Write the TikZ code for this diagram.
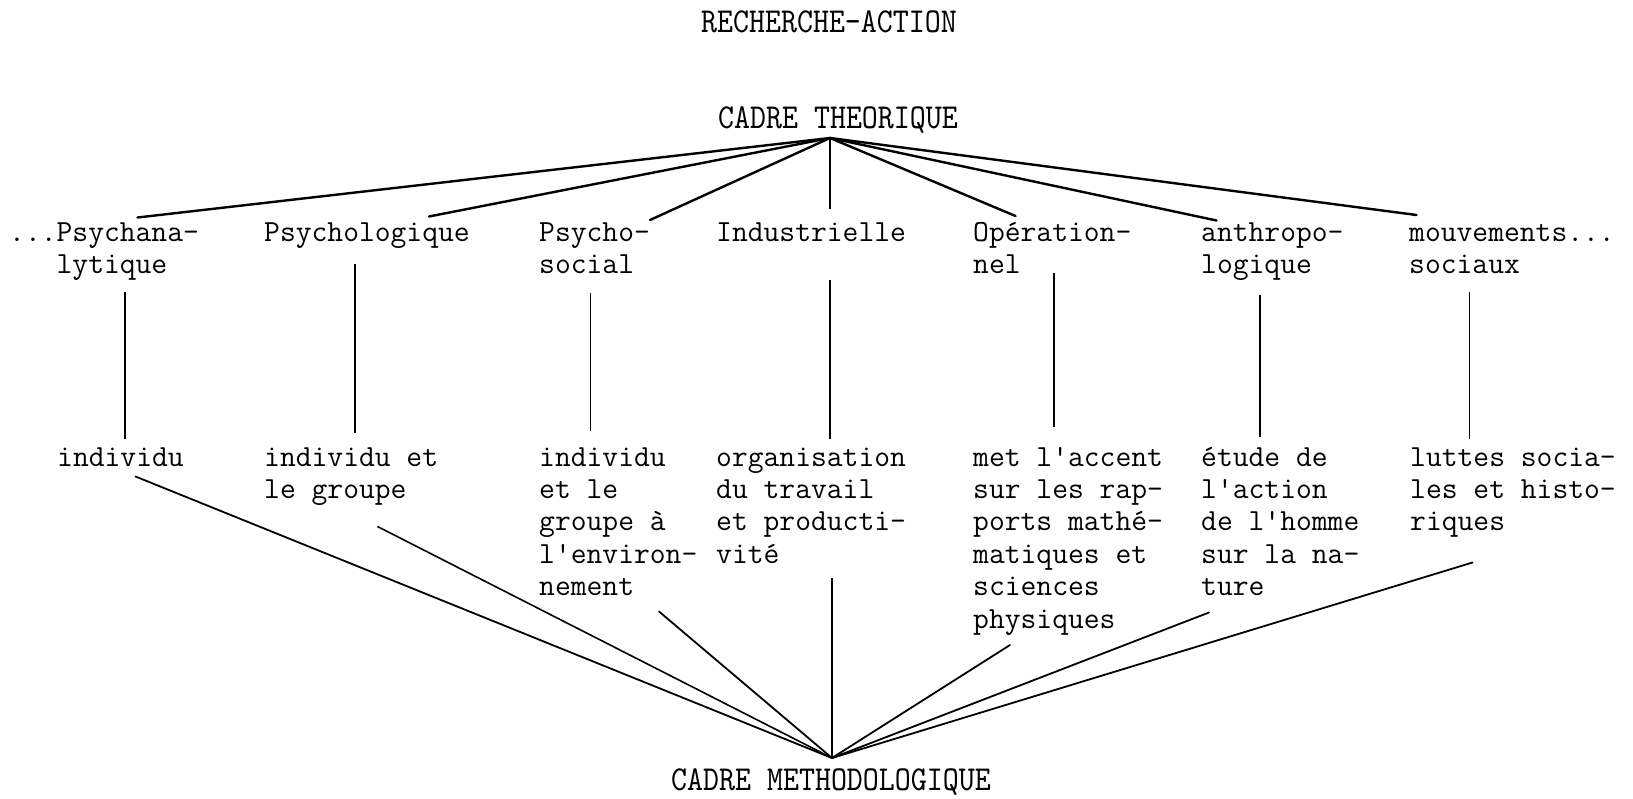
\documentclass[tikz,border=0pt]{standalone}
\usepackage{fontspec}
% typewriter body text and condensed typewriter capitals for the headings
\newfontfamily\hdtype{lmmono10-regular.otf}[FakeStretch=0.87]
\newcommand\lbfont{\ttfamily\fontsize{30.7}{32.4}\selectfont}
\newcommand\hdfont{\hdtype\fontsize{35}{40}\selectfont}
\newcommand\lines[1]{\begin{tabular}[t]{@{}l@{}}#1\end{tabular}}
\begin{document}
\begin{tikzpicture}[x=1pt,y=-1pt,
  lbl/.style={anchor=base west, inner sep=0pt, font=\lbfont},
  head/.style={anchor=base, inner sep=0pt, font=\hdfont},
  fan/.style={line width=2.4pt, line cap=round},
  link/.style={line width=1.6pt},
  base/.style={line width=1.8pt, line cap=round}]
\useasboundingbox (0,0) rectangle (1633,798);

% headings
\node[head] (title) at (829,32) {RECHERCHE-ACTION};
\node[head] (theo) at (838,128) {CADRE THEORIQUE};
\node[head] (meth) at (831,790.5) {CADRE METHODOLOGIQUE};
\coordinate (apexT) at (830,138);
\coordinate (apexB) at (832,758);

% upper row: kinds of action research
\node[lbl] (t1) at (9,241.5)    {\lines{...Psychana-\\\hphantom{...}lytique}};
\node[lbl] (t2) at (264,241.5)  {\lines{Psychologique}};
\node[lbl] (t3) at (539,241.5)  {\lines{Psycho-\\social}};
\node[lbl] (t4) at (716,241.5)  {\lines{Industrielle}};
\node[lbl] (t5) at (973,241.5)  {\lines{Opération-\\nel}};
\node[lbl] (t6) at (1201,241.5) {\lines{anthropo-\\logique}};
\node[lbl] (t7) at (1409,241.5) {\lines{mouvements...\\sociaux}};

% lower row: their fields
\node[lbl] (b1) at (57,466)   {\lines{individu}};
\node[lbl] (b2) at (264,466)  {\lines{individu et\\le groupe}};
\node[lbl] (b3) at (539,466)  {\lines{individu\\et le\\groupe à\\l'environ-\\nement}};
\node[lbl] (b4) at (716,466)  {\lines{organisation\\du travail\\et producti-\\vité}};
\node[lbl] (b5) at (973,466)  {\lines{met l'accent\\sur les rap-\\ports mathé-\\matiques et\\sciences\\physiques}};
\node[lbl] (b6) at (1201,466) {\lines{étude de\\l'action\\de l'homme\\sur la na-\\ture}};
\node[lbl] (b7) at (1410,466) {\lines{luttes socia-\\les et histo-\\riques}};

% connector ends beside the texts
\coordinate (t1in) at (137.5,217.5);
\coordinate (t2in) at (429,216.5);
\coordinate (t3in) at (650,220);
\coordinate (t4in) at (830,209);
\coordinate (t5in) at (1015.5,216);
\coordinate (t6in) at (1216.5,220.5);
\coordinate (t7in) at (1416.5,215);

\coordinate (t1out) at (125,292);   \coordinate (b1in) at (125,439);
\coordinate (t2out) at (355,264);   \coordinate (b2in) at (355,433);
\coordinate (t3out) at (590.5,293); \coordinate (b3in) at (590.5,431);
\coordinate (t4out) at (830,280);   \coordinate (b4in) at (830,439);
\coordinate (t5out) at (1054,273);  \coordinate (b5in) at (1054,427);
\coordinate (t6out) at (1260,295);  \coordinate (b6in) at (1260,437);
\coordinate (t7out) at (1469.5,292);\coordinate (b7in) at (1469.5,439);

\coordinate (b1out) at (135.5,476.5);
\coordinate (b2out) at (377.5,526.5);
\coordinate (b3out) at (659,611.5);
\coordinate (b4out) at (832,578);
\coordinate (b5out) at (1010,645);
\coordinate (b6out) at (1209,612.5);
\coordinate (b7out) at (1472.5,562.5);

% theoretical frame fanning out
\foreach \i in {1,2,3,5,6,7} \draw[fan] (apexT) -- (t\i in);
\draw[link] (apexT) -- (t4in);

% each kind to its field
\foreach \i in {1,...,7} \draw[link] (t\i out) -- (b\i in);

% fields gathered into the methodological frame
\foreach \i in {1,3,5,6,7} \draw[base] (b\i out) -- (apexB);
\draw[link] (b2out) -- (apexB);
\draw[link] (b4out) -- (apexB);
\end{tikzpicture}
\end{document}
